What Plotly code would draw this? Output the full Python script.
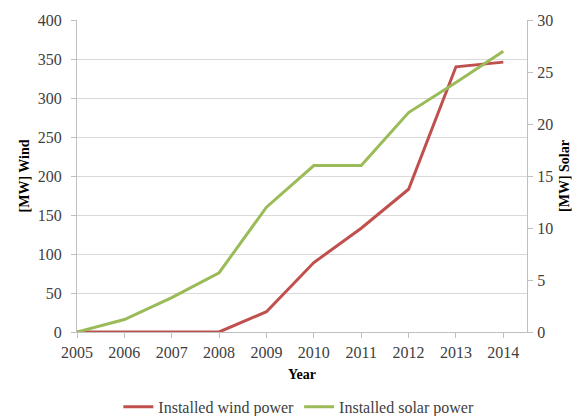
import plotly.graph_objects as go

years = [2005, 2006, 2007, 2008, 2009, 2010, 2011, 2012, 2013, 2014]
wind_mw = [0, 0, 0, 0, 26, 89, 133, 183, 340, 346]
solar_mw = [0, 1.2, 3.3, 5.7, 12, 16, 16, 21.1, 24, 27]
left_ticks = [0, 50, 100, 150, 200, 250, 300, 350, 400]
right_ticks = [0, 5, 10, 15, 20, 25, 30]

SERIF = "Liberation Serif"
AXIS_COL = "#bfbfbf"
GRID_COL = "#d9d9d9"
TICK_FONT = dict(family=SERIF, size=16, color="#404040")
TITLE_FONT = dict(family=SERIF, size=14, color="#000000")

fig = go.Figure()
fig.add_trace(go.Scatter(
    x=years, y=wind_mw, name="Installed wind power", mode="lines",
    line=dict(color="#C0504D", width=3), yaxis="y"))
fig.add_trace(go.Scatter(
    x=years, y=solar_mw, name="Installed solar power", mode="lines",
    line=dict(color="#9BBB59", width=3), yaxis="y2"))

fig.update_layout(
    width=579, height=416,
    margin=dict(l=77, r=52, t=20, b=84),
    paper_bgcolor="white", plot_bgcolor="white",
    font=dict(family=SERIF),
    xaxis=dict(
        range=[2005, 2014.5], tickvals=years, ticktext=[str(y) for y in years],
        showgrid=False, zeroline=False, showline=True, linecolor=AXIS_COL, linewidth=1,
        ticks="outside", ticklen=5, tickcolor=AXIS_COL, tickfont=TICK_FONT,
        ticklabelstandoff=1, automargin=False,
        title=dict(text="<b>Year</b>", font=TITLE_FONT, standoff=8),
    ),
    yaxis=dict(
        range=[0, 400], tickvals=left_ticks,
        showgrid=True, gridcolor=GRID_COL, gridwidth=1, zeroline=False,
        showline=True, linecolor=AXIS_COL, linewidth=1,
        ticks="outside", ticklen=5, tickcolor=AXIS_COL, tickfont=TICK_FONT,
        ticklabelstandoff=6, automargin=False,
        title=dict(text="<b>[MW] Wind</b>", font=TITLE_FONT, standoff=4),
    ),
    yaxis2=dict(
        range=[0, 30], tickvals=right_ticks, overlaying="y", side="right",
        showgrid=False, zeroline=False,
        showline=True, linecolor=AXIS_COL, linewidth=1,
        ticks="outside", ticklen=5, tickcolor=AXIS_COL, tickfont=TICK_FONT,
        ticklabelstandoff=1, automargin=False,
        title=dict(text="<b>[MW] Solar</b>", font=TITLE_FONT, standoff=6),
    ),
    legend=dict(
        orientation="h", x=0.493, xanchor="center",
        yref="container", y=0.022, yanchor="middle",
        font=dict(family=SERIF, size=16, color="#404040"),
        bgcolor="rgba(0,0,0,0)",
    ),
    showlegend=True,
)

fig.write_html(
    "out.html",
    config={"displayModeBar": False},
    post_script="document.body.style.margin='0';document.body.style.overflow='hidden';",
)
